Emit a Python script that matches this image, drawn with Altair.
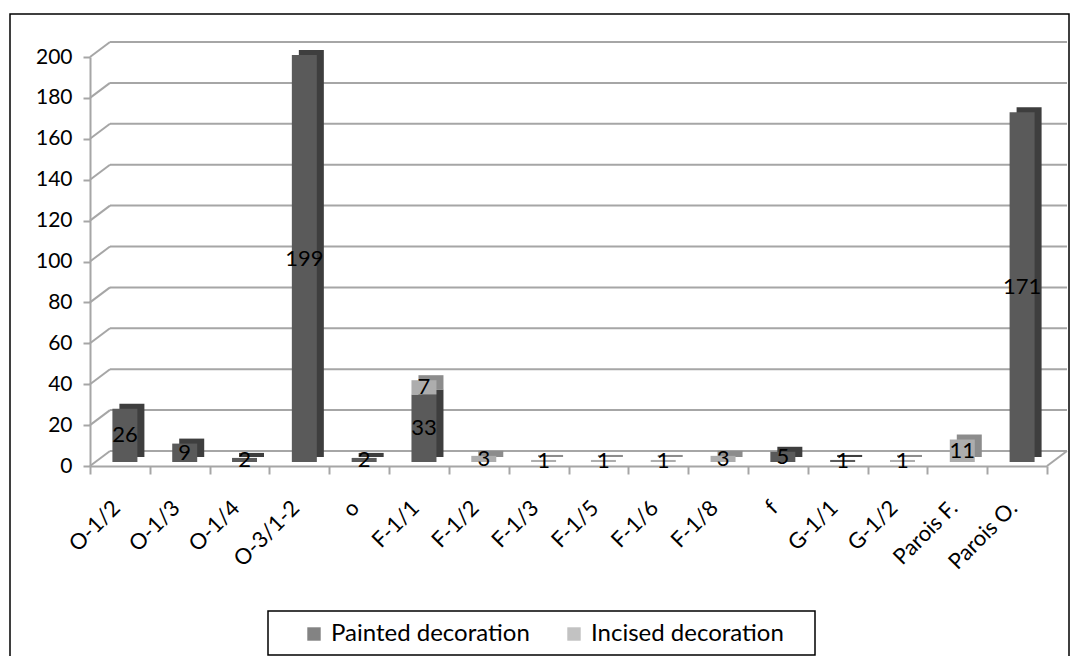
import altair as alt
import pandas as pd

cats = ["O-1/2", "O-1/3", "O-1/4", "O-3/1-2", "o", "F-1/1", "F-1/2", "F-1/3",
        "F-1/5", "F-1/6", "F-1/8", "f", "G-1/1", "G-1/2", "Parois F.", "Parois O."]
painted = [26, 9, 2, 199, 2, 33, 0, 0, 0, 0, 0, 5, 1, 0, 0, 171]
incised = [0, 0, 0, 0, 0, 7, 3, 1, 1, 1, 3, 0, 0, 1, 11, 0]
series = ["Painted decoration", "Incised decoration"]
y_ticks = list(range(0, 201, 20))

rows = []
for i, c in enumerate(cats):
    rows.append(dict(cat=c, type=series[0], value=painted[i], order=0))
    rows.append(dict(cat=c, type=series[1], value=incised[i], order=1))
df = pd.DataFrame(rows)
gdf = pd.DataFrame({"v": y_ticks})
one = pd.DataFrame({"a": [0]})

W, H = 957, 409
GC = "#a6a6a6"
FONT = "Lato"

yscale = alt.Scale(domain=[0, 200], nice=False, zero=True)
yaxis = alt.Axis(values=y_ticks, grid=False, tickSize=7, tickColor=GC, tickWidth=2,
                 domainColor=GC, domainWidth=2, labelFontSize=21, labelFont=FONT,
                 labelColor="black", labelPadding=11, title=None)
xaxis = alt.Axis(labelAngle=-45, labelFontSize=22, labelFont=FONT, labelColor="black",
                 tickBand="extent", tickSize=8, tickColor=GC, tickWidth=2,
                 domainColor=GC, domainWidth=2, labelPadding=23, labelOffset=-11,
                 title=None)
xenc = alt.X("cat:N", sort=cats, scale=alt.Scale(paddingInner=0, paddingOuter=0), axis=xaxis)

base = alt.Chart(df).transform_filter("datum.value > 0").transform_stack(
    stack="value", groupby=["cat"], as_=["v0", "v1"],
    sort=[alt.SortField("order", "ascending")]
).transform_calculate(
    mid="(datum.v0 + datum.v1) / 2",
    side="datum.type == 'Painted decoration' ? '#3e3e3e' : '#8c8c8c'"
)

border = alt.Chart(one).mark_rect(filled=False, color="black", strokeWidth=1.5).encode(
    x=alt.value(-80), x2=alt.value(979), y=alt.value(-43), y2=alt.value(640))
legbox = alt.Chart(one).mark_rect(filled=False, color="black", strokeWidth=1.5).encode(
    x=alt.value(178), x2=alt.value(725), y=alt.value(554), y2=alt.value(598))

grid = alt.Chart(gdf).mark_rule(color=GC, strokeWidth=2, yOffset=-15).encode(
    x=alt.value(20), x2=alt.value(W + 20), y=alt.Y("v:Q", scale=yscale, axis=yaxis))
diag = alt.Chart(gdf).mark_rule(color=GC, strokeWidth=2, y2Offset=-15).encode(
    x=alt.value(0), x2=alt.value(20), y=alt.Y("v:Q", scale=yscale, axis=yaxis), y2="v:Q")
floor_r = alt.Chart(one).mark_rule(color=GC, strokeWidth=2).encode(
    x=alt.value(W), x2=alt.value(W + 20), y=alt.value(H), y2=alt.value(H - 15))

back = base.mark_bar(size=25, xOffset=12, yOffset=-9, y2Offset=-9).encode(
    x=xenc, y=alt.Y("v0:Q", scale=yscale, axis=yaxis), y2="v1:Q",
    color=alt.Color("side:N", scale=None))
front = base.mark_bar(size=25, xOffset=5, yOffset=-4, y2Offset=-4).encode(
    x=xenc, y=alt.Y("v0:Q", scale=yscale, axis=yaxis), y2="v1:Q",
    color=alt.Color("type:N", scale=alt.Scale(domain=series, range=["#5a5a5a", "#adadad"]),
                    legend=alt.Legend(title=None, orient="none", legendX=212, legendY=565,
                                      direction="horizontal", symbolType="square",
                                      symbolSize=180, symbolStrokeWidth=0,
                                      symbolOpacity=0.75, labelFontSize=24,
                                      labelFont=FONT, labelColor="black", labelLimit=0,
                                      columnPadding=32, labelOffset=5, padding=0)))
labels = base.mark_text(fontSize=22, font=FONT, color="black", dx=5, dy=-4).encode(
    x=xenc, y=alt.Y("mid:Q", scale=yscale, axis=yaxis), text="value:Q")

chart = alt.layer(border, legbox, grid, diag, floor_r, back, front, labels).properties(
    width=W, height=H,
    padding={"left": 82, "top": 49, "right": 24, "bottom": 190},
    autosize=alt.AutoSizeParams(type="none"),
    background="white",
).configure_view(stroke=None)

chart.save("out.html", embed_options={"renderer": "svg", "actions": False})
